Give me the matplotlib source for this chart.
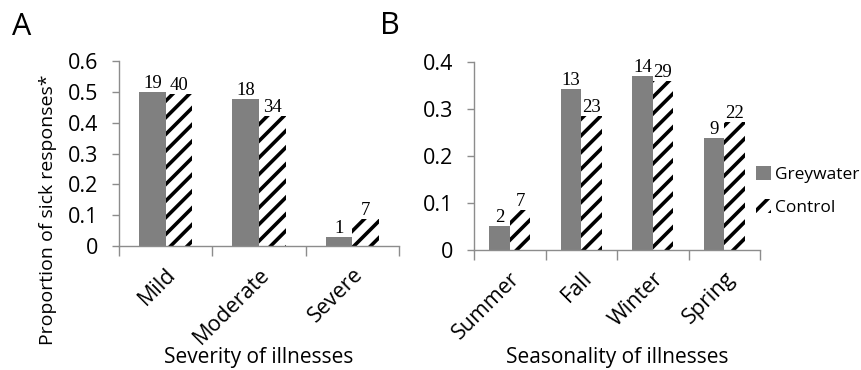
import matplotlib
matplotlib.use("Agg")
import matplotlib.pyplot as plt
from matplotlib.transforms import ScaledTranslation

plt.rcParams['font.family'] = ['Open Sans', 'DejaVu Sans']
plt.rcParams['hatch.linewidth'] = 2.6

series = ["Greywater", "Control"]

sev_cats = ["Mild", "Moderate", "Severe"]
sev_grey = [0.500, 0.476, 0.028]
sev_ctrl = [0.493, 0.421, 0.087]
sev_grey_n = ["19", "18", "1"]
sev_ctrl_n = ["40", "34", "7"]

sea_cats = ["Summer", "Fall", "Winter", "Spring"]
sea_grey = [0.052, 0.343, 0.369, 0.237]
sea_ctrl = [0.085, 0.284, 0.359, 0.271]
sea_grey_n = ["2", "13", "14", "9"]
sea_ctrl_n = ["7", "23", "29", "22"]

sev_ticks = [0, 0.1, 0.2, 0.3, 0.4, 0.5, 0.6]
sev_ticklabels = ["0", "0.1", "0.2", "0.3", "0.4", "0.5", "0.6"]
sea_ticks = [0, 0.1, 0.2, 0.3, 0.4]
sea_ticklabels = ["0", "0.1", "0.2", "0.3", "0.4"]

W, H = 861, 370
fig = plt.figure(figsize=(W / 100, H / 100), dpi=100)

def px_axes(x0, y0, x1, y1):
    return fig.add_axes([x0 / W, 1 - y1 / H, (x1 - x0) / W, (y1 - y0) / H])

GREY = "#808080"
AXC = "#8c8c8c"
bw = 0.285
TICKFS = 15.5
CATFS = 15.5
LABFS = 15

def draw(ax, cats, g, c, gn, cn, ticks, ticklabels, ymax, xlabel):
    x = list(range(len(cats)))
    xg = [i - bw / 2 for i in x]
    xc = [i + bw / 2 for i in x]
    bg = ax.bar(xg, g, width=bw, color=GREY, edgecolor=GREY, linewidth=0, label=series[0])
    bc = ax.bar(xc, c, width=bw, color="white", edgecolor="black", linewidth=0,
                hatch="//", label=series[1])
    for xi, v, t in zip(xg, g, gn):
        ax.text(xi, v, t, ha="center", va="bottom", fontsize=13.5,
                family="Liberation Serif")
    for xi, v, t in zip(xc, c, cn):
        ax.text(xi, v, t, ha="center", va="bottom", fontsize=13.5,
                family="Liberation Serif")
    ax.set_xlim(-0.5, len(cats) - 0.5)
    ax.set_ylim(0, ymax)
    ax.set_yticks(ticks)
    ax.set_yticklabels(ticklabels, fontsize=TICKFS)
    ax.set_xticks([i - 0.5 for i in range(len(cats) + 1)], minor=False)
    ax.set_xticklabels([])
    ax.set_xticks(x, minor=True)
    ax.set_xticklabels(cats, minor=True, rotation=45, ha="right",
                       rotation_mode="anchor", fontsize=CATFS)
    off = ScaledTranslation(3 / 100, 0, fig.dpi_scale_trans)
    for lab in ax.get_xticklabels(minor=True):
        lab.set_va("top")
        lab.set_transform(lab.get_transform() + off)
    ax.tick_params(axis="x", which="minor", length=0, pad=13)
    ax.tick_params(axis="x", which="major", length=7, color=AXC, width=1)
    ax.tick_params(axis="y", length=5, color=AXC, width=1, pad=10)
    for s in ["top", "right"]:
        ax.spines[s].set_visible(False)
    for s in ["left", "bottom"]:
        ax.spines[s].set_color(AXC)
        ax.spines[s].set_linewidth(1)
    ax.set_xlabel(xlabel, fontsize=LABFS, labelpad=0)
    return bg, bc

axA = px_axes(119, 61, 399, 246)
draw(axA, sev_cats, sev_grey, sev_ctrl, sev_grey_n, sev_ctrl_n,
     sev_ticks, sev_ticklabels, 0.6, "Severity of illnesses")
axA.set_ylabel("Proportion of sick responses*", fontsize=14)
axA.xaxis.set_label_coords(0.5, -(357.5 - 246) / 185)
axA.xaxis.label.set_va("center")
axA.yaxis.set_label_coords((48 - 119) / 280, (246 - 210) / 185)
axA.yaxis.label.set_va("center")

axB = px_axes(474, 61.7, 760, 250)
bg, bc = draw(axB, sea_cats, sea_grey, sea_ctrl, sea_grey_n, sea_ctrl_n,
              sea_ticks, sea_ticklabels, 0.4, "Seasonality of illnesses")
axB.xaxis.set_label_coords(0.5, -(357.5 - 250) / 188.3)
axB.xaxis.label.set_va("center")

fig.legend([bg, bc], series, loc="upper left",
           bbox_to_anchor=(756 / W, 1 - 166 / H), frameon=False,
           fontsize=12.5, handlelength=0.85, handleheight=0.85,
           handletextpad=0.25, labelspacing=0.95, borderaxespad=0, borderpad=0)

fig.text(12 / W, 1 - 35 / H, "A", fontsize=22, ha="left", va="baseline")
fig.text(380 / W, 1 - 34 / H, "B", fontsize=22, ha="left", va="baseline")

fig.savefig("out.png", dpi=100)
